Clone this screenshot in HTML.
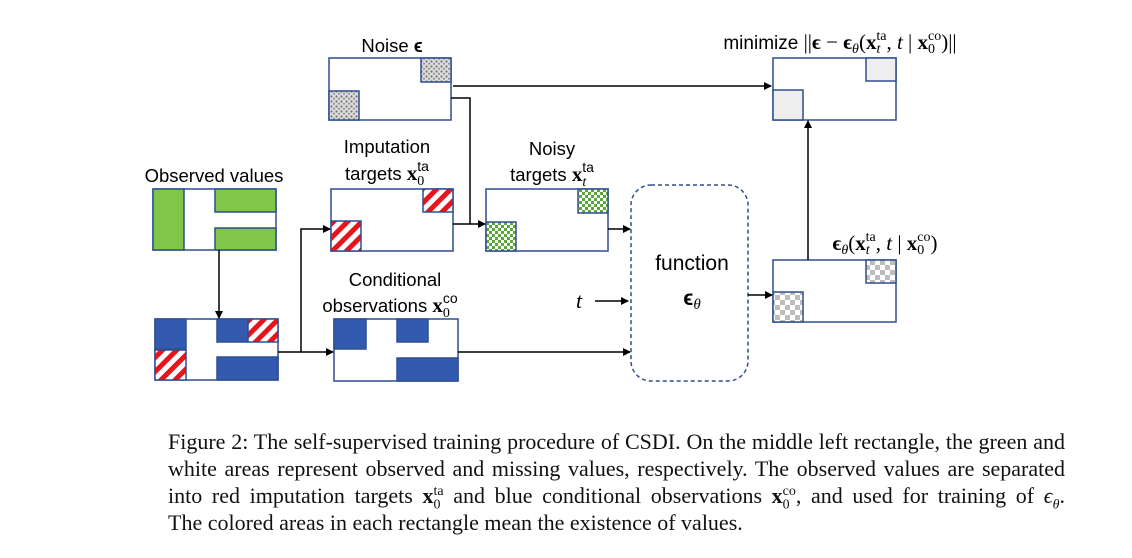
<!DOCTYPE html>
<html><head><meta charset="utf-8">
<style>
html,body{margin:0;padding:0;background:#fff;width:1132px;height:558px;overflow:hidden;position:relative}
.cap{position:absolute;left:168px;width:897px;font-family:"Liberation Serif",serif;font-size:22px;line-height:27px;color:#111;white-space:nowrap;height:27px;overflow:visible}
.j{text-align:justify;text-align-last:justify;white-space:normal}
.cap sub,.cap sup{font-size:14px;line-height:0}
</style></head><body>
<svg width="1132" height="420" style="position:absolute;left:0;top:0" font-family="Liberation Sans, sans-serif">
<defs>
<pattern id="red" width="10" height="10" patternUnits="userSpaceOnUse" patternTransform="rotate(45)">
<rect width="10" height="10" fill="#fff"/><rect width="5" height="10" fill="#e8141c"/></pattern>
<pattern id="grn" width="6" height="6" patternUnits="userSpaceOnUse">
<rect width="6" height="6" fill="#fff"/><rect width="3" height="3" fill="#5aa83a"/><rect x="3" y="3" width="3" height="3" fill="#5aa83a"/></pattern>
<pattern id="gry" width="10" height="10" patternUnits="userSpaceOnUse">
<rect width="10" height="10" fill="#fff"/><rect width="5" height="5" fill="#bdbdbd"/><rect x="5" y="5" width="5" height="5" fill="#bdbdbd"/></pattern>
<pattern id="dot" width="5" height="5" patternUnits="userSpaceOnUse">
<rect width="5" height="5" fill="#dcdcdc"/><circle cx="1.5" cy="1.5" r="1.1" fill="#777"/><circle cx="4" cy="3.8" r="1" fill="#888"/></pattern>
<marker id="ar" markerWidth="8" markerHeight="8" refX="7" refY="4" orient="auto" markerUnits="userSpaceOnUse">
<path d="M0,0 L8,4 L0,8 z" fill="#000"/></marker>
</defs>
<g stroke="#2f4f8f" stroke-width="1.5">
<rect x="329" y="58" width="122" height="62" fill="#fff"/>
<rect x="421" y="58" width="30" height="24" fill="url(#dot)"/>
<rect x="329" y="91" width="30" height="29" fill="url(#dot)"/>
<rect x="153" y="189" width="123" height="61" fill="#fff"/>
<rect x="153" y="189" width="31" height="61" fill="#7fc64a"/>
<rect x="215" y="189" width="61" height="23" fill="#7fc64a"/>
<rect x="215" y="228" width="61" height="22" fill="#7fc64a"/>
<rect x="155" y="319" width="123" height="61" fill="#fff"/>
<rect x="155" y="319" width="31" height="30" fill="#325bb0"/>
<rect x="217" y="319" width="31" height="23" fill="#325bb0"/>
<rect x="248" y="319" width="30" height="23" fill="url(#red)"/>
<rect x="155" y="350" width="31" height="30" fill="url(#red)"/>
<rect x="217" y="357" width="61" height="23" fill="#325bb0"/>
<rect x="331" y="189" width="122" height="62" fill="#fff"/>
<rect x="423" y="189" width="30" height="23" fill="url(#red)"/>
<rect x="331" y="221" width="30" height="30" fill="url(#red)"/>
<rect x="486" y="189" width="122" height="62" fill="#fff"/>
<rect x="578" y="189" width="30" height="24" fill="url(#grn)"/>
<rect x="486" y="222" width="30" height="29" fill="url(#grn)"/>
<rect x="334" y="319" width="124" height="62" fill="#fff"/>
<rect x="334" y="319" width="32" height="30" fill="#325bb0"/>
<rect x="397" y="319" width="31" height="23" fill="#325bb0"/>
<rect x="397" y="358" width="61" height="23" fill="#325bb0"/>
<rect x="773" y="260" width="123" height="62" fill="#fff"/>
<rect x="866" y="260" width="30" height="23" fill="url(#gry)"/>
<rect x="773" y="292" width="30" height="30" fill="url(#gry)"/>
<rect x="773" y="58" width="123" height="62" fill="#fff"/>
<rect x="866" y="58" width="30" height="23" fill="#eeeeee"/>
<rect x="773" y="90" width="30" height="30" fill="#eeeeee"/>
</g>
<rect x="631" y="185" width="117" height="196" rx="20" fill="none" stroke="#2f4f8f" stroke-width="1.5" stroke-dasharray="4,3"/>
<g stroke="#000" stroke-width="1.5" fill="none">
<path d="M219,250 V318" marker-end="url(#ar)"/>
<path d="M278,352 H301 V229 H330" marker-end="url(#ar)"/>
<path d="M301,352 H333" marker-end="url(#ar)"/>
<path d="M458,352 H630" marker-end="url(#ar)"/>
<path d="M453,224 H485" marker-end="url(#ar)"/>
<path d="M451,98 H470 V224"/>
<path d="M453,86 H771" marker-end="url(#ar)"/>
<path d="M608,229 H630" marker-end="url(#ar)"/>
<path d="M595,301 H628" marker-end="url(#ar)"/>
<path d="M748,295 H772" marker-end="url(#ar)"/>
<path d="M808,260 V121" marker-end="url(#ar)"/>
</g>
<g font-size="18.5" fill="#000" text-anchor="middle">
<text x="392" y="52">Noise <tspan font-weight="bold">ϵ</tspan></text>
<text x="214" y="182">Observed values</text>
<text x="387" y="153">Imputation</text>
<text x="387" y="180">targets <tspan font-family="Liberation Serif" font-weight="bold" font-size="21">x</tspan><tspan font-size="14" font-family="Liberation Serif" dy="5">0</tspan><tspan font-size="14" dx="-7" dy="-14">ta</tspan></text>
<text x="552" y="155">Noisy</text>
<text x="552" y="181">targets <tspan font-family="Liberation Serif" font-weight="bold" font-size="21">x</tspan><tspan font-size="14" font-family="Liberation Serif" dy="5" font-style="italic">t</tspan><tspan font-size="14" dx="-4" dy="-14">ta</tspan></text>
<text x="395" y="286">Conditional</text>
<text x="390" y="312">observations <tspan font-family="Liberation Serif" font-weight="bold" font-size="21">x</tspan><tspan font-size="14" font-family="Liberation Serif" dy="5">0</tspan><tspan font-size="14" dx="-7" dy="-14">co</tspan></text>
<text x="579" y="308" font-family="Liberation Serif" font-style="italic" font-size="22">t</text>
<text x="692" y="270" font-size="21">function</text>
<text x="692" y="305" font-size="21"><tspan font-weight="bold">ϵ</tspan><tspan font-family="Liberation Serif" font-style="italic" font-size="15" dy="4">θ</tspan></text>
<text x="885" y="250" font-family="Liberation Serif" font-size="21"><tspan font-weight="bold">ϵ</tspan><tspan font-style="italic" font-size="14" dy="4">θ</tspan><tspan dy="-4">(</tspan><tspan font-weight="bold">x</tspan><tspan font-size="14" font-style="italic" dy="4">t</tspan><tspan font-size="14" dx="-4" dy="-13">ta</tspan><tspan dy="9">, </tspan><tspan font-style="italic">t</tspan> | <tspan font-weight="bold">x</tspan><tspan font-size="14" dy="4">0</tspan><tspan font-size="14" dx="-7" dy="-13">co</tspan><tspan dy="9">)</tspan></text>
<text x="840" y="49" font-size="21"><tspan font-family="Liberation Sans" font-size="19">minimize </tspan><tspan font-family="Liberation Serif">||<tspan font-weight="bold">ϵ</tspan> − <tspan font-weight="bold">ϵ</tspan><tspan font-style="italic" font-size="14" dy="4">θ</tspan><tspan dy="-4">(</tspan><tspan font-weight="bold">x</tspan><tspan font-size="14" font-style="italic" dy="4">t</tspan><tspan font-size="14" dx="-4" dy="-13">ta</tspan><tspan dy="9">, </tspan><tspan font-style="italic">t</tspan> | <tspan font-weight="bold">x</tspan><tspan font-size="14" dy="4">0</tspan><tspan font-size="14" dx="-7" dy="-13">co</tspan><tspan dy="9">)||</tspan></tspan></text>
</g>
</svg>
<div class="cap j" style="top:428px">Figure 2: The self-supervised training procedure of CSDI. On the middle left rectangle, the green and</div>
<div class="cap j" style="top:455px">white areas represent observed and missing values, respectively. The observed values are separated</div>
<div class="cap j" style="top:482px">into red imputation targets <b>x</b><sub>0</sub><sup style="margin-left:-7px">ta</sup> and blue conditional observations <b>x</b><sub>0</sub><sup style="margin-left:-7px">co</sup>, and used for training of <i>ϵ</i><sub><i>θ</i></sub>.</div>
<div class="cap" style="top:509px">The colored areas in each rectangle mean the existence of values.</div>
</body></html>
